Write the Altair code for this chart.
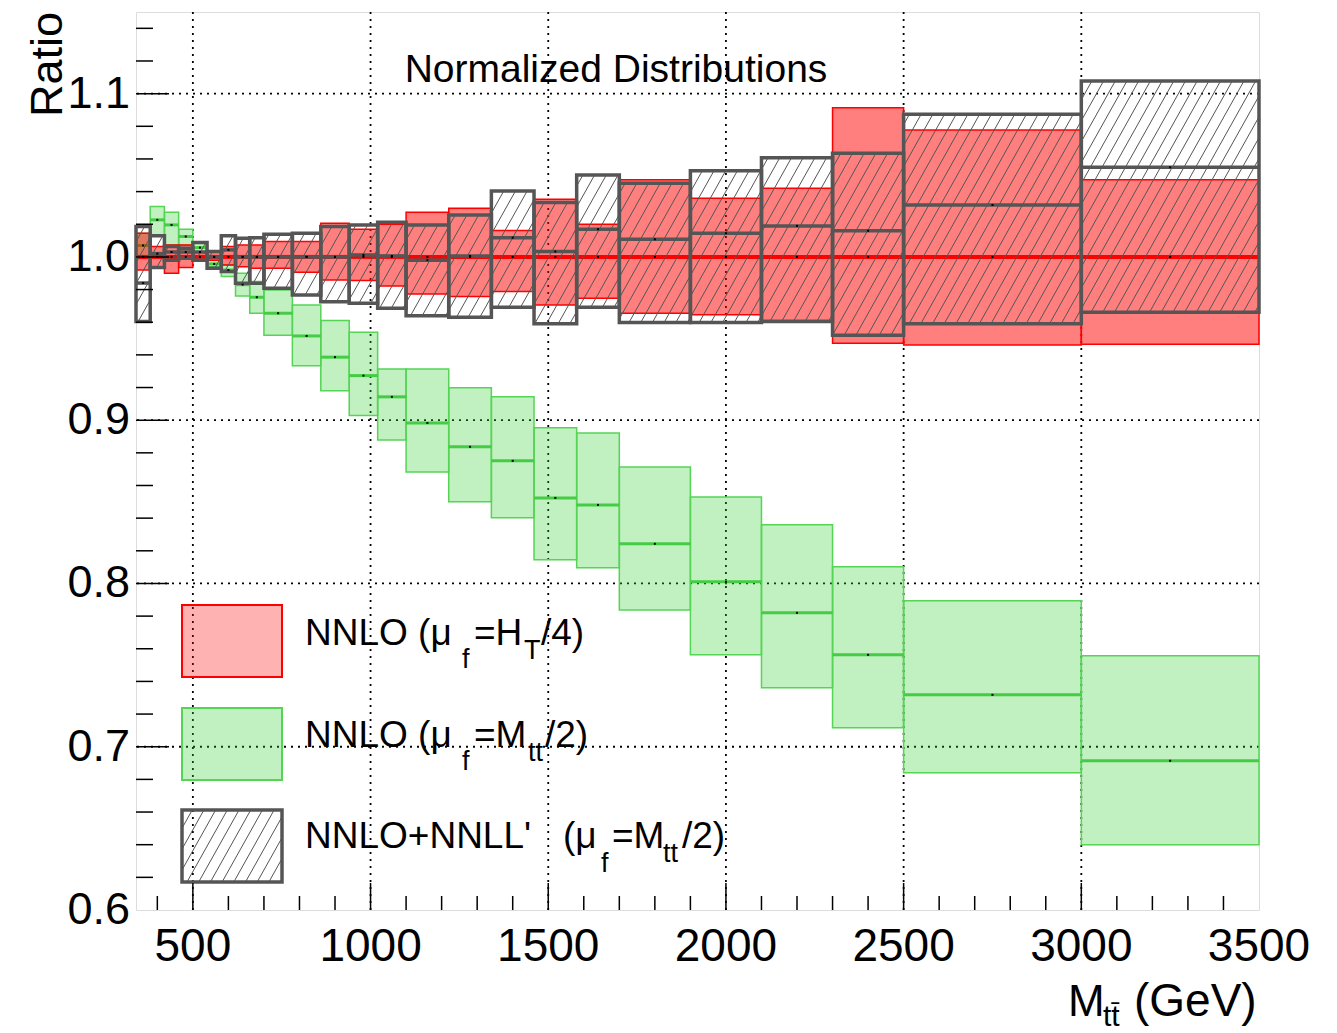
import math
import altair as alt
import pandas as pd

# Bin edges in M_tt (GeV)
edges = [340, 380, 420, 460, 500, 540, 580, 620, 660, 700, 780, 860, 940, 1020,
         1100, 1220, 1340, 1460, 1580, 1700, 1900, 2100, 2300, 2500, 3000, 3500]

# NNLO, mu_f = H_T/4 (reference, central ratio = 1)
red_c = [1.0] * 25
red_lo = [0.992, 0.994, 0.990, 0.9935, 0.998, 0.998, 0.995, 0.994, 0.993, 0.993,
          0.9906, 0.9859, 0.9855, 0.9822, 0.9773, 0.9757, 0.9788, 0.9706, 0.9747,
          0.9655, 0.9645, 0.961, 0.9471, 0.9461, 0.9465]
red_hi = [1.0145, 1.0063, 1.0073, 1.0073, 1.003, 1.003, 1.0063, 1.0073, 1.0073,
          1.0094, 1.0094, 1.0206, 1.017, 1.020, 1.0274, 1.0298, 1.0161, 1.0353,
          1.020, 1.0472, 1.0359, 1.042, 1.0914, 1.0778, 1.0472]

# NNLO, mu_f = M_tt/2
green_c = [1.007, 1.0227, 1.0196, 1.0125, 1.0057, 0.9957, 0.992, 0.983, 0.9753,
           0.9655, 0.9516, 0.9386, 0.9273, 0.9143, 0.8983, 0.8837, 0.8751, 0.8524,
           0.8481, 0.8243, 0.801, 0.782, 0.7563, 0.7318, 0.6914]
green_lo = [0.999, 1.013, 1.0073, 1.0073, 1.003, 0.994, 0.988, 0.976, 0.9655,
            0.952, 0.9333, 0.918, 0.9028, 0.8879, 0.8683, 0.85, 0.8402, 0.8145,
            0.8096, 0.7838, 0.7563, 0.7361, 0.7116, 0.684, 0.6399]
green_hi = [1.0145, 1.0308, 1.0274, 1.017, 1.0088, 0.998, 0.995, 0.990, 0.9849,
            0.9798, 0.9706, 0.961, 0.9539, 0.9314, 0.9314, 0.9198, 0.9143, 0.8953,
            0.8922, 0.8714, 0.853, 0.8359, 0.8102, 0.7894, 0.7557]

# NNLO+NNLL', mu_f = M_tt/2
black_c = [0.984, 1.002, 1.003, 1.003, 1.003, 1.0, 1.0043, 1.0, 1.0, 1.0, 1.0, 1.0,
           1.0012, 1.0006, 0.998, 1.0006, 1.0118, 1.0033, 1.017, 1.0108, 1.0145,
           1.019, 1.016, 1.0318, 1.0549]
black_lo = [0.9604, 0.9935, 0.998, 0.9992, 0.998, 0.993, 0.991, 0.9839, 0.9839,
            0.9808, 0.9767, 0.9726, 0.9716, 0.9686, 0.964, 0.963, 0.9692, 0.959,
            0.9692, 0.9598, 0.9598, 0.9604, 0.952, 0.959, 0.9661]
black_hi = [1.0186, 1.013, 1.0063, 1.0053, 1.0088, 1.0033, 1.0129, 1.0114, 1.0118,
            1.0139, 1.0145, 1.0186, 1.0196, 1.0212, 1.0196, 1.0257, 1.0404, 1.0333,
            1.0502, 1.0451, 1.0527, 1.0608, 1.0635, 1.0874, 1.1078]

x_major = [500, 1000, 1500, 2000, 2500, 3000, 3500]
x_labels = ["500", "1000", "1500", "2000", "2500", "3000", "3500"]
y_major = [0.6, 0.7, 0.8, 0.9, 1.0, 1.1]
y_labels = ["0.6", "0.7", "0.8", "0.9", "1.0", "1.1"]

FONT = "Liberation Sans"
W, H = 1123, 898
X0, X1 = 340, 3500
Y0, Y1 = 0.6, 1.15
SX = W / (X1 - X0)
SY = H / (Y1 - Y0)

xs = alt.Scale(domain=[X0, X1], nice=False, zero=False)
ys = alt.Scale(domain=[Y0, Y1], nice=False, zero=False)


def px(m, v):
    return (m - X0) * SX, (Y1 - v) * SY


def data(x, y):
    return X0 + x / SX, Y1 - y / SY


# "///" hatching laid out in screen space so all boxes share one pattern
HATCH_GAP = 11.7
HATCH_K = 0.56


def hatch(m0, m1, v0, v1):
    xa, yb = px(m0, v0)
    xb, ya = px(m1, v1)
    out = []
    n = math.ceil((xa + HATCH_K * ya) / HATCH_GAP)
    while n * HATCH_GAP <= xb + HATCH_K * yb:
        c = n * HATCH_GAP
        y_top = max(ya, (c - xb) / HATCH_K)
        y_bot = min(yb, (c - xa) / HATCH_K)
        if y_bot - y_top > 0.5:
            m_a, v_a = data(c - HATCH_K * y_top, y_top)
            m_b, v_b = data(c - HATCH_K * y_bot, y_bot)
            out.append({"x": m_a, "y": v_a, "x2": m_b, "y2": v_b})
        n += 1
    return out


def band_frame(c, lo, hi):
    return pd.DataFrame({"a": edges[:-1], "b": edges[1:], "c": c, "lo": lo, "hi": hi,
                         "mid": [(p + q) / 2 for p, q in zip(edges[:-1], edges[1:])]})


red = band_frame(red_c, red_lo, red_hi)
green = band_frame(green_c, green_lo, green_hi)
black = band_frame(black_c, black_lo, black_hi)


def Xq(f):
    return alt.X(f, type="quantitative", scale=xs, axis=None)


def Yq(f):
    return alt.Y(f, type="quantitative", scale=ys, axis=None)


def boxes(df, **mk):
    return alt.Chart(df).mark_rect(**mk).encode(
        x=Xq("a"), x2=alt.X2("b"), y=Yq("lo"), y2=alt.Y2("hi"))


def centre(df, **mk):
    return alt.Chart(df).mark_rule(**mk).encode(x=Xq("a"), x2=alt.X2("b"), y=Yq("c"))


# legend boxes (pixel rectangles inside the frame)
leg_px = [(46, 146, 593, 665), (46, 146, 696, 768), (46, 146, 798, 870)]
leg = []
for (l, r, t, b) in leg_px:
    ma, vt = data(l, t)
    mb, vb = data(r, b)
    leg.append({"a": ma, "b": mb, "lo": vb, "hi": vt})
leg_df = pd.DataFrame(leg)

hatch_rows = []
for a, b, lo, hi in zip(edges[:-1], edges[1:], black_lo, black_hi):
    hatch_rows += hatch(a, b, lo, hi)
l3 = leg[2]
hatch_rows += hatch(l3["a"], l3["b"], l3["lo"], l3["hi"])
hatch_df = pd.DataFrame(hatch_rows)

GREY = "#555555"

grid_x = alt.Chart(pd.DataFrame({"t": x_major[:-1]})).mark_rule(
    color="black", strokeWidth=1.8, strokeDash=[2, 5]).encode(x=Xq("t"))
grid_y = alt.Chart(pd.DataFrame({"t": y_major[1:]})).mark_rule(
    color="black", strokeWidth=1.8, strokeDash=[2, 5]).encode(y=Yq("t"))

g_box = boxes(green, fill="#33cc33", fillOpacity=0.3, stroke="#55d455", strokeWidth=1.5)
g_mid = centre(green, color="#44cc44", strokeWidth=3)
r_box = boxes(red, fill="#ff0000", fillOpacity=0.5, stroke="#ff0000", strokeWidth=1.5)
r_mid = centre(red, color="#ff0000", strokeWidth=4)
h_lines = alt.Chart(hatch_df).mark_rule(color=GREY, strokeWidth=1).encode(
    x=Xq("x"), x2=alt.X2("x2"), y=Yq("y"), y2=alt.Y2("y2"))
b_box = boxes(black, fill="transparent", stroke=GREY, strokeWidth=3.5)
b_mid = centre(black, color=GREY, strokeWidth=3.5)

dots = alt.Chart(pd.concat([red[["mid", "c"]], green[["mid", "c"]], black[["mid", "c"]]])).mark_square(
    color="black", size=4, opacity=1).encode(x=Xq("mid"), y=Yq("c"))

# legend
leg_red = alt.Chart(leg_df.iloc[[0]]).mark_rect(
    fill="#ff0000", fillOpacity=0.3, stroke="#ff0000", strokeWidth=2).encode(
    x=Xq("a"), x2=alt.X2("b"), y=Yq("lo"), y2=alt.Y2("hi"))
leg_green = alt.Chart(leg_df.iloc[[1]]).mark_rect(
    fill="#33cc33", fillOpacity=0.3, stroke="#55d455", strokeWidth=2).encode(
    x=Xq("a"), x2=alt.X2("b"), y=Yq("lo"), y2=alt.Y2("hi"))
leg_black = alt.Chart(leg_df.iloc[[2]]).mark_rect(
    fill="transparent", stroke=GREY, strokeWidth=3.5).encode(
    x=Xq("a"), x2=alt.X2("b"), y=Yq("lo"), y2=alt.Y2("hi"))


def txt(s, x, y, size=37, **kw):
    return alt.Chart(pd.DataFrame({"s": [s]})).mark_text(
        font=FONT, fontSize=size, align="left", baseline="alphabetic", color="black", **kw
    ).encode(x=alt.value(x), y=alt.value(y), text="s:N")


SUB = 27
legend_text = [
    txt("NNLO (\u03bc", 169, 633), txt("f", 326, 656, SUB), txt("=H", 338, 633),
    txt("T", 388, 647, SUB), txt("/4)", 405, 633),
    txt("NNLO (\u03bc", 169, 735), txt("f", 326, 758, SUB), txt("=M", 338, 735),
    txt("tt", 392, 749, SUB), txt("/2)", 409, 735),
    txt("NNLO+NNLL'", 169, 836), txt("(\u03bc", 427, 836), txt("f", 465, 860, SUB),
    txt("=M", 476, 836), txt("tt", 527, 850, SUB), txt("/2)", 546, 836),
]

title = alt.Chart(pd.DataFrame({"s": ["Normalized Distributions"]})).mark_text(
    font=FONT, fontSize=39, align="center", baseline="alphabetic", color="black"
).encode(x=alt.value(480), y=alt.value(70), text="s:N")

ratio = alt.Chart(pd.DataFrame({"s": ["Ratio"]})).mark_text(
    font=FONT, fontSize=45, align="right", baseline="alphabetic", angle=270, color="black"
).encode(x=alt.value(-74), y=alt.value(0), text="s:N")

x_title = [txt("M", 932, 1004, 44), txt("tt\u0304", 967, 1014, 30),
           txt("(GeV)", 998, 1004, 46)]

# ticks pointing into the frame
x_minor = [v for v in range(400, 3500, 100) if v % 500]
y_minor = [round(0.6 + 0.02 * i, 2) for i in range(1, 28) if i % 5]
tick_x_major = alt.Chart(pd.DataFrame({"t": x_major[:-1]})).mark_rule(
    color="black", strokeWidth=1.5).encode(x=Xq("t"), y=alt.value(H), y2=alt.value(H - 27))
tick_x_minor = alt.Chart(pd.DataFrame({"t": x_minor})).mark_rule(
    color="black", strokeWidth=1.5).encode(x=Xq("t"), y=alt.value(H), y2=alt.value(H - 14))
tick_y_major = alt.Chart(pd.DataFrame({"t": y_major[1:]})).mark_rule(
    color="black", strokeWidth=1.5).encode(y=Yq("t"), x=alt.value(0), x2=alt.value(33))
tick_y_minor = alt.Chart(pd.DataFrame({"t": y_minor})).mark_rule(
    color="black", strokeWidth=1.5).encode(y=Yq("t"), x=alt.value(0), x2=alt.value(17))

x_tick_text = alt.Chart(pd.DataFrame({"t": x_major, "s": x_labels})).mark_text(
    font=FONT, fontSize=46, align="center", baseline="alphabetic", color="black"
).encode(x=Xq("t"), y=alt.value(H + 51), text="s:N")
y_tick_text = alt.Chart(pd.DataFrame({"t": y_major, "s": y_labels})).mark_text(
    font=FONT, fontSize=45, align="right", baseline="middle", color="black"
).encode(x=alt.value(-6), y=Yq("t"), text="s:N")

chart = alt.layer(
    grid_x, grid_y,
    g_box, g_mid, r_box, r_mid, h_lines, b_box, b_mid, dots,
    leg_red, leg_green, leg_black,
    *legend_text, title, ratio, *x_title,
    tick_x_major, tick_x_minor, tick_y_major, tick_y_minor,
    x_tick_text, y_tick_text,
).properties(
    width=W, height=H,
    autosize=alt.AutoSizeParams(type="none"),
    padding={"left": 136, "top": 12, "right": 78, "bottom": 123},
).configure_view(stroke="black", strokeWidth=2).configure(background="white")

chart.save("out.html", embed_options={"renderer": "svg", "actions": False})
